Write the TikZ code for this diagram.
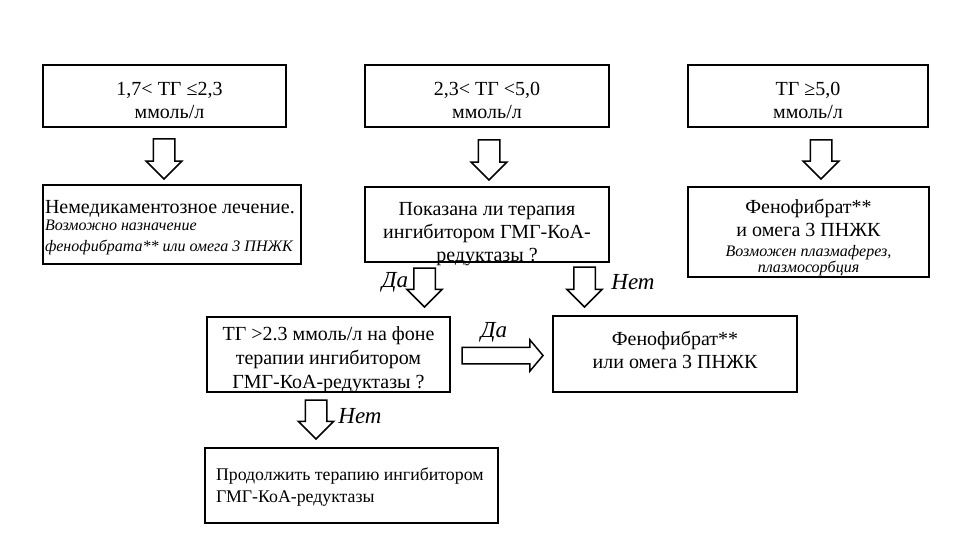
\documentclass[tikz,border=0pt]{standalone}
\usepackage{fontspec}
\setmainfont{Liberation Serif}
\usetikzlibrary{calc,shapes.arrows}
\def\bigtxt{\fontsize{20}{23}\selectfont}
\def\smalltxt{\fontsize{16}{16}\selectfont\itshape}
\tikzset{
	box/.style={draw, line width=1.2pt, inner sep=0pt, outer sep=0pt, align=flush center, font=\bigtxt},
	downarr/.style={draw, fill=white, line width=1.5pt, single arrow, shape border rotate=270,
		minimum width=34pt, minimum height=40pt, single arrow head extend=7pt,
		inner sep=10pt, outer sep=0pt, anchor=tail},
	rightarr/.style={draw, fill=white, line width=1.5pt, single arrow,
		minimum width=30pt, minimum height=81pt, single arrow head extend=7.5pt,
		single arrow tip angle=100, inner sep=7.5pt, outer sep=0pt, anchor=tail},
	lab/.style={font=\fontsize{23}{26}\selectfont\itshape, inner sep=0pt}
}

\begin{document}
\begin{tikzpicture}[x=1pt, y=-1pt]
			%%%%% START %%%%%
			\useasboundingbox (0, 0) rectangle (974, 548);
			
			% top row
			\node[box, minimum width=243, minimum height=62, text width=230, text height=26pt, text depth=26pt] (rangeLow) at (164.5, 96)
				{\hspace*{10pt}1,7< ТГ ≤2,3\\\hspace*{10pt}ммоль/л};
			\node[box, minimum width=244, minimum height=62, text width=230, text height=25pt, text depth=25pt] (rangeMid) at (487, 96)
				{2,3< ТГ <5,0\\ммоль/л};
			\node[box, minimum width=240, minimum height=62, text width=230, text height=25pt, text depth=25pt] (rangeHigh) at (808, 96)
				{ТГ ≥5,0\\ммоль/л};
			
			\node[downarr] (arrLow) at (164, 139) {};
			\node[downarr] (arrMid) at (489, 140) {};
			\node[downarr, minimum height=39pt] (arrHigh) at (821, 140) {};
			
			% second row
			\node[box, align=flush left, minimum width=258, minimum height=79, text width=254, text height=27pt, text depth=48pt] (nonDrug) at (172, 224.5)
				{Немедикаментозное лечение.\par\vspace{-3pt}{\fontsize{16}{20}\selectfont\itshape Возможно назначение\\фенофибрата** или омега 3 ПНЖК\par}};
			\node[box, minimum width=244, minimum height=75, text width=236, text height=25.5pt, text depth=44.5pt] (statinQ) at (487, 224.5)
				{Показана ли терапия\\ингибитором ГМГ-КоА-\\редуктазы ?};
			\node[box, minimum width=241, minimum height=90, text width=234, text height=25pt, text depth=61pt] (fenoHigh) at (808.5, 232)
				{Фенофибрат**\\и омега 3 ПНЖК\par\vspace{3.5pt}{\smalltxt Возможен плазмаферез,\\плазмосорбция\par}};
			
			\node[downarr, minimum height=39pt] (arrYes) at (424.5, 268) {};
			\node[downarr] (arrNo) at (584.5, 267) {};
			\node[lab] (labYes) at (395, 282) {Да};
			\node[lab] (labNo) at (633, 282) {Нет};
			
			% third row
			\node[box, minimum width=243, minimum height=75, text width=238, text height=21.5pt, text depth=50.5pt, font=\fontsize{20}{24}\selectfont] (onStatin) at (328.5, 354.5)
				{ТГ >2.3 ммоль/л на фоне\\терапии ингибитором\\ГМГ-КоА-редуктазы ?};
			\node[box, minimum width=244, minimum height=76, text width=236, text height=26pt, text depth=44pt] (fenoMid) at (675, 354)
				{Фенофибрат**\\или омега 3 ПНЖК};
			
			\node[rightarr] (arrYes2) at (462, 355.5) {};
			\node[lab] (labYes2) at (494, 332) {Да};
			
			\node[downarr, minimum height=39pt] (arrNo2) at (316, 400) {};
			\node[lab] (labNo2) at (360, 416) {Нет};
			
			% bottom
			\node[box, align=flush left, minimum width=293, minimum height=75, text width=271, text height=29.5pt, text depth=40.5pt, font=\fontsize{17.8}{22}\selectfont] (goOn) at (351.5, 485.5)
				{Продолжить терапию ингибитором\\ГМГ-КоА-редуктазы};
			
			%%%%% END %%%%%
\end{tikzpicture}
\end{document}
